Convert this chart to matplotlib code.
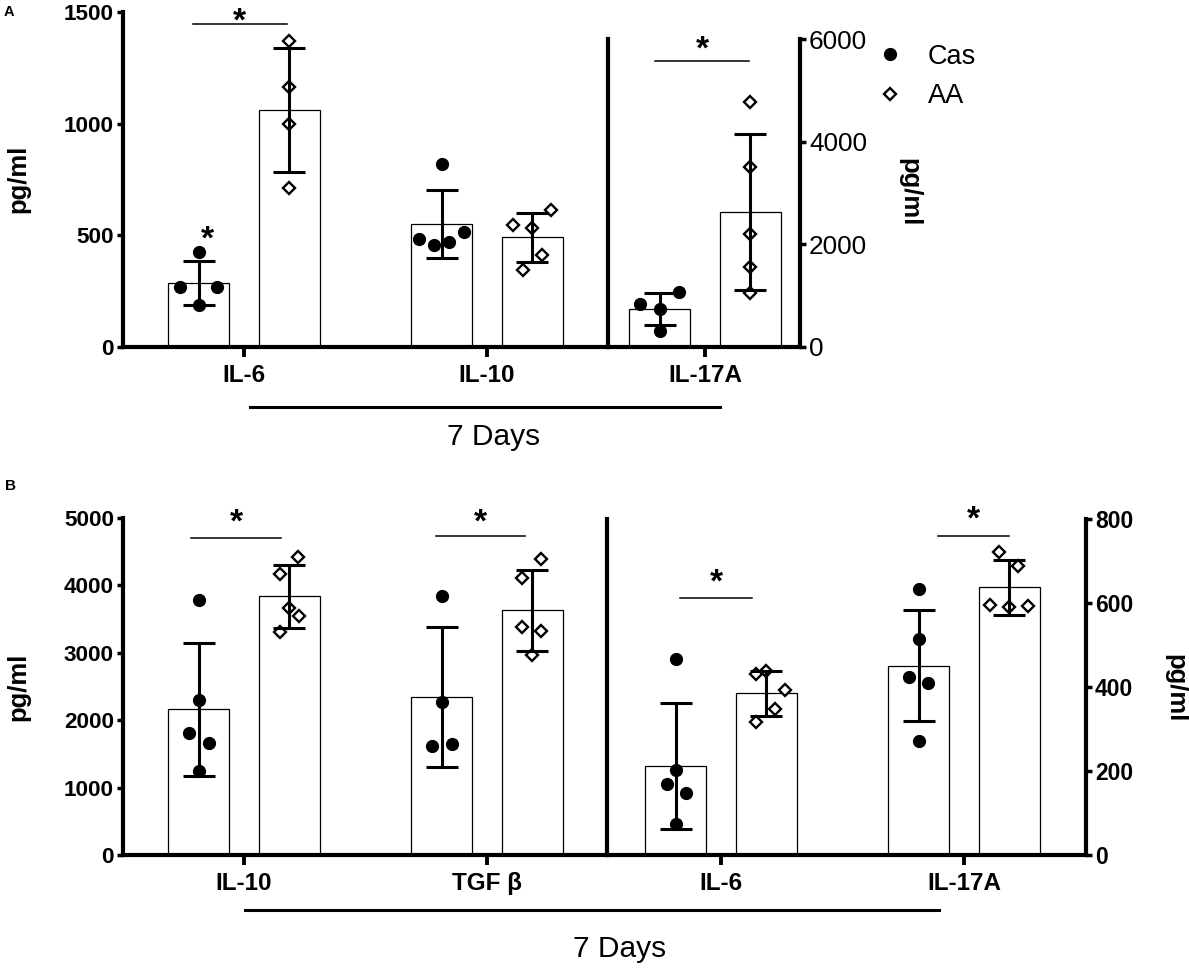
import numpy as np
import matplotlib
matplotlib.use("Agg")
import matplotlib.pyplot as plt
from matplotlib.lines import Line2D

plt.rcParams['font.family'] = ['Liberation Sans', 'DejaVu Sans']

W, H = 1189, 968

# ---- panel A data (pg/ml) ----
a_left_cats = ['IL-6', 'IL-10']
a_left_cas_mean = [287, 550]
a_left_cas_sd = [97, 153]
a_left_aa_mean = [1061, 492]
a_left_aa_sd = [277, 110]
a_left_cas_pts = [[425, 267, 267, 189], [821, 483, 457, 472, 517]]
a_left_aa_pts = [[1370, 1165, 998, 711], [547, 535, 614, 413, 346]]

a_right_cats = ['IL-17A']
a_right_cas_mean = [740]
a_right_cas_sd = [309]
a_right_aa_mean = [2630]
a_right_aa_sd = [1510]
a_right_cas_pts = [[844, 740, 1078, 318]]
a_right_aa_pts = [[4773, 3507, 2201, 1559, 1052]]

# ---- panel B data (pg/ml) ----
b_left_cats = ['IL-10', 'TGF β']
b_left_cas_mean = [2163, 2342]
b_left_cas_sd = [985, 1040]
b_left_aa_mean = [3837, 3629]
b_left_aa_sd = [470, 605]
b_left_cas_pts = [[3787, 2302, 1807, 1658, 1248], [3837, 2267, 1619, 1649]]
b_left_aa_pts = [[4416, 4168, 3663, 3550, 3302], [4396, 4109, 3381, 3317, 2960]]

b_right_cats = ['IL-6', 'IL-17A']
b_right_cas_mean = [212, 451]
b_right_cas_sd = [150, 133]
b_right_aa_mean = [385, 637]
b_right_aa_sd = [53, 65]
b_right_cas_pts = [[466, 203, 168, 147, 75], [633, 514, 425, 409, 272]]
b_right_aa_pts = [[431, 438, 392, 348, 316], [721, 687, 596, 590, 592]]

# horizontal scatter of the single points (x offsets from bar centre)
a_left_cas_jit = [[0, -0.079, 0.074, 0], [0, -0.093, -0.033, 0.030, 0.093]]
a_left_aa_jit = [[0, 0, 0, 0], [-0.079, 0, 0.079, 0.039, -0.039]]
a_right_cas_jit = [[-0.082, 0, 0.080, 0]]
a_right_aa_jit = [[0, 0, 0, 0, 0]]
b_left_cas_jit = [[0, 0, -0.039, 0.041, 0], [0, 0, -0.039, 0.041]]
b_left_aa_jit = [[0.038, -0.038, 0, 0.039, -0.038], [0.038, -0.041, -0.041, 0.038, 0]]
b_right_cas_jit = [[0, 0, -0.038, 0.041, 0], [0, 0, -0.041, 0.038, 0]]
b_right_aa_jit = [[-0.041, 0, 0.077, 0.038, -0.041], [-0.041, 0.038, -0.08, 0, 0.077]]

# significance bars: (x0, x1, y of line, y of star)
a_left_sig = [(-0.21, 0.175, 1445, 1500)]
a_left_cas_star = (-0.15, 524)
a_right_sig = [(-0.205, 0.18, 5577, 5980)]
b_left_sig = [(-0.218, 0.152, 4703, 5074), (0.79, 1.156, 4733, 5074)]
b_right_sig = [(-0.169, 0.128, 612, 671), (0.893, 1.185, 760, 821)]

OFF = 0.186
BW = 0.251


def rect(x0, x1, y0, y1):
    return [x0 / W, 1 - y1 / H, (x1 - x0) / W, (y1 - y0) / H]


def star(ax, x, y, fs=24):
    ax.annotate('*', (x, y), xytext=(0, -0.56 * fs), textcoords='offset points',
                ha='center', va='baseline', fontsize=fs, fontweight='bold',
                annotation_clip=False)


def draw_groups(ax, cas_mean, cas_sd, aa_mean, aa_sd, cas_pts, aa_pts, cas_jit, aa_jit):
    for i in range(len(cas_mean)):
        for xc, m, s, pts, jit, mk in [(i - OFF, cas_mean[i], cas_sd[i], cas_pts[i], cas_jit[i], 'o'),
                                       (i + OFF, aa_mean[i], aa_sd[i], aa_pts[i], aa_jit[i], 'D')]:
            ax.bar(xc, m, width=BW, color='white', edgecolor='black', linewidth=0.9, zorder=2)
            if mk == 'o':
                ax.plot(xc + np.array(jit), pts, 'o', ms=8.5, color='black', zorder=3, clip_on=False)
            else:
                ax.plot(xc + np.array(jit), pts, 'D', ms=6.3, mfc='white', mec='black', mew=1.7,
                        zorder=3, clip_on=False)
            ax.errorbar(xc, m, yerr=s, fmt='none', ecolor='black', elinewidth=2.2,
                        capsize=11.5, capthick=2.2, zorder=4)


def sig(ax, items):
    for x0, x1, yl, ys in items:
        ax.plot([x0, x1], [yl, yl], color='black', lw=1.1, clip_on=False)
        star(ax, (x0 + x1) / 2, ys)


def style_left(ax, cats, ymax, yt, xlim):
    ax.set_xlim(*xlim)
    ax.set_ylim(0, ymax)
    ax.set_yticks(yt)
    ax.set_xticks(range(len(cats)))
    ax.set_xticklabels(cats, fontsize=17.5, fontweight='bold')
    for lab in ax.get_yticklabels():
        lab.set_fontweight('bold')
        lab.set_fontsize(16.2)
    ax.spines['top'].set_visible(False)
    ax.spines['right'].set_visible(False)
    ax.spines['left'].set_linewidth(3)
    ax.spines['bottom'].set_linewidth(3)
    ax.tick_params(axis='y', length=4.5, width=2.5, pad=2)
    ax.tick_params(axis='x', length=7, width=2.8, pad=5)


def style_right(ax, cats, ymax, yt, xlim, bold):
    ax.set_xlim(*xlim)
    ax.set_ylim(0, ymax)
    ax.set_xticks(range(len(cats)))
    ax.set_xticklabels(cats, fontsize=17.5, fontweight='bold')
    ax.spines['top'].set_visible(False)
    ax.spines['left'].set_linewidth(3)
    ax.spines['right'].set_linewidth(3)
    ax.spines['bottom'].set_linewidth(3)
    ax.yaxis.tick_right()
    ax.set_yticks(yt)
    for lab in ax.get_yticklabels():
        if bold:
            lab.set_fontweight('bold')
            lab.set_fontsize(16.5)
        else:
            lab.set_fontsize(18.8)
    ax.tick_params(axis='y', length=4.5, width=2.5, pad=2)
    ax.tick_params(axis='x', length=7, width=2.8, pad=5)


fig = plt.figure(figsize=(W / 100, H / 100), dpi=100)

# ---- panel A ----
axA = fig.add_axes(rect(123, 608, 12, 347))
draw_groups(axA, a_left_cas_mean, a_left_cas_sd, a_left_aa_mean, a_left_aa_sd,
            a_left_cas_pts, a_left_aa_pts, a_left_cas_jit, a_left_aa_jit)
style_left(axA, a_left_cats, 1500, [0, 500, 1000, 1500], (-0.498, 1.498))
sig(axA, a_left_sig)
star(axA, *a_left_cas_star)

axA2 = fig.add_axes(rect(608, 800, 39, 347))
draw_groups(axA2, a_right_cas_mean, a_right_cas_sd, a_right_aa_mean, a_right_aa_sd,
            a_right_cas_pts, a_right_aa_pts, a_right_cas_jit, a_right_aa_jit)
style_right(axA2, a_right_cats, 6000, [0, 2000, 4000, 6000], (-0.399, 0.391), False)
sig(axA2, a_right_sig)

# ---- panel B ----
axB = fig.add_axes(rect(123, 607, 518, 855))
draw_groups(axB, b_left_cas_mean, b_left_cas_sd, b_left_aa_mean, b_left_aa_sd,
            b_left_cas_pts, b_left_aa_pts, b_left_cas_jit, b_left_aa_jit)
style_left(axB, b_left_cats, 5000, [0, 1000, 2000, 3000, 4000, 5000], (-0.498, 1.494))
sig(axB, b_left_sig)

axB2 = fig.add_axes(rect(607, 1086, 519, 855))
draw_groups(axB2, b_right_cas_mean, b_right_cas_sd, b_right_aa_mean, b_right_aa_sd,
            b_right_cas_pts, b_right_aa_pts, b_right_cas_jit, b_right_aa_jit)
style_right(axB2, b_right_cats, 800, [0, 200, 400, 600, 800], (-0.469, 1.502), True)
sig(axB2, b_right_sig)

# axis titles and panel letters
fig.text(18 / W, 1 - 179 / H, 'pg/ml', rotation=90, ha='center', va='center',
         fontsize=18.5, fontweight='bold')
fig.text(909 / W, 1 - 192 / H, 'pg/ml', rotation=270, ha='center', va='center',
         fontsize=18.5, fontweight='bold')
fig.text(18 / W, 1 - 687 / H, 'pg/ml', rotation=90, ha='center', va='center',
         fontsize=18.5, fontweight='bold')
fig.text(1175 / W, 1 - 688 / H, 'pg/ml', rotation=270, ha='center', va='center',
         fontsize=18.5, fontweight='bold')
fig.text(9 / W, 1 - 12 / H, 'A', ha='center', va='center', fontsize=10.5, fontweight='bold')
fig.text(10 / W, 1 - 486 / H, 'B', ha='center', va='center', fontsize=11, fontweight='bold')

# "7 Days" brackets
fig.add_artist(Line2D([250 / W, 720 / W], [1 - 407 / H, 1 - 407 / H], color='black', lw=2.2))
fig.text(494 / W, 1 - 437 / H, '7 Days', ha='center', va='center', fontsize=21.5)
fig.add_artist(Line2D([245 / W, 939 / W], [1 - 910 / H, 1 - 910 / H], color='black', lw=2.2))
fig.text(620 / W, 1 - 949 / H, '7 Days', ha='center', va='center', fontsize=21.5)

# legend
handles = [Line2D([], [], ls='none', marker='o', ms=8.5, color='black'),
           Line2D([], [], ls='none', marker='D', ms=6.3, mfc='white', mec='black', mew=1.7)]
fig.legend(handles, ['Cas', 'AA'], loc='upper left', bbox_to_anchor=(866 / W, 1 - 33 / H),
           frameon=False, fontsize=19.5, handlelength=1.0, handletextpad=0.87,
           labelspacing=0.5, borderpad=0.4, borderaxespad=0)

fig.savefig('out.png', dpi=100)
